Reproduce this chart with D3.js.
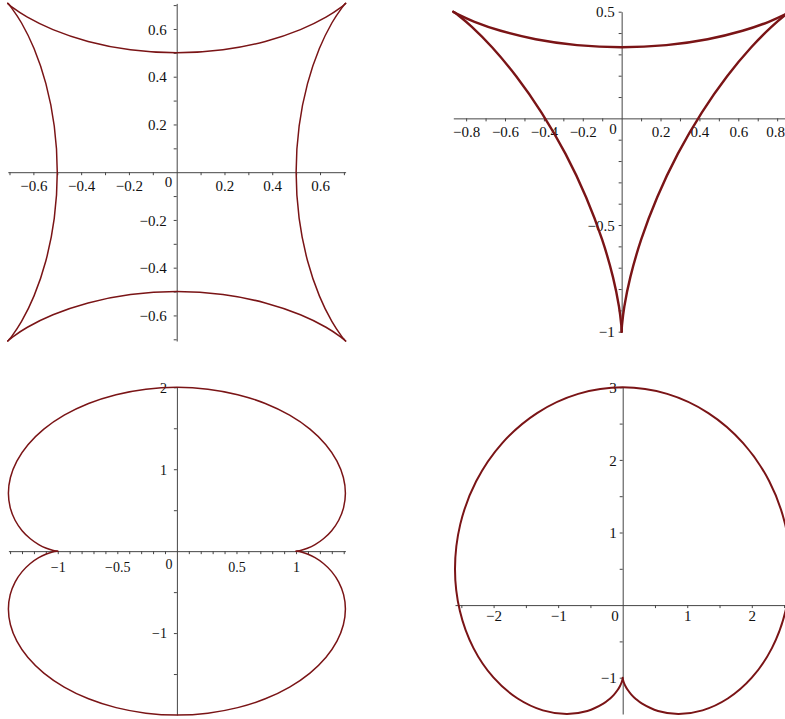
<!DOCTYPE html>
<html><head><meta charset="utf-8">
<script src="https://cdn.jsdelivr.net/npm/d3@7"></script>
<style>html,body{margin:0;padding:0;background:#fff;} svg{display:block;}</style>
</head><body><svg id="chart" width="785" height="719"></svg>
<script>
// ---- Panel 1: four-cusped curve ----
const astroidTop = [[0.70711,0.70711],[0.70238,0.70277],[0.68754,0.69068],[0.625,0.64952],[0.51798,0.59724],[0.37089,0.54766],[0.19356,0.51261],[0,0.5],[-0.19356,0.51261],[-0.37089,0.54766],[-0.51798,0.59724],[-0.625,0.64952],[-0.68754,0.69068],[-0.70238,0.70277],[-0.70711,0.70711]];
const astroidBottom = [[0.70711,-0.70711],[0.70238,-0.70277],[0.68754,-0.69068],[0.625,-0.64952],[0.51798,-0.59724],[0.37089,-0.54766],[0.19356,-0.51261],[0,-0.5],[-0.19356,-0.51261],[-0.37089,-0.54766],[-0.51798,-0.59724],[-0.625,-0.64952],[-0.68754,-0.69068],[-0.70238,-0.70277],[-0.70711,-0.70711]];
const astroidRight = [[0.70711,0.70711],[0.70277,0.70238],[0.69068,0.68754],[0.64952,0.625],[0.59724,0.51798],[0.54766,0.37089],[0.51261,0.19356],[0.5,0],[0.51261,-0.19356],[0.54766,-0.37089],[0.59724,-0.51798],[0.64952,-0.625],[0.69068,-0.68754],[0.70277,-0.70238],[0.70711,-0.70711]];
const astroidLeft = [[-0.70711,0.70711],[-0.70277,0.70238],[-0.69068,0.68754],[-0.64952,0.625],[-0.59724,0.51798],[-0.54766,0.37089],[-0.51261,0.19356],[-0.5,0],[-0.51261,-0.19356],[-0.54766,-0.37089],[-0.59724,-0.51798],[-0.64952,-0.625],[-0.69068,-0.68754],[-0.70277,-0.70238],[-0.70711,-0.70711]];
const p1XLabels = [-0.6,-0.4,-0.2,0.2,0.4,0.6];
const p1XMinor = [-0.7,-0.5,-0.3,-0.1,0.1,0.3,0.5,0.7];
const p1YLabels = [-0.6,-0.4,-0.2,0.2,0.4,0.6];
const p1YMinor = [-0.7,-0.5,-0.3,-0.1,0.1,0.3,0.5,0.7];

// ---- Panel 2: three-cusped curve ----
const deltoidTop = [[0.86603,0.5],[0.85933,0.49639],[0.83896,0.48641],[0.7568,0.45281],[0.62201,0.41069],[0.44228,0.37111],[0.22977,0.34331],[0,0.33333],[-0.22977,0.34331],[-0.44228,0.37111],[-0.62201,0.41069],[-0.7568,0.45281],[-0.83896,0.48641],[-0.85933,0.49639],[-0.86603,0.5]];
const deltoidRight = [[0,-1],[0.00022,-0.9924],[0.00177,-0.96978],[0.01375,-0.88182],[0.04466,-0.74403],[0.10025,-0.56859],[0.18242,-0.37065],[0.28868,-0.16667],[0.4122,0.02733],[0.54253,0.19747],[0.66668,0.33333],[0.77055,0.429],[0.84073,0.48336],[0.85956,0.496],[0.86603,0.5]];
const deltoidLeft = [[0,-1],[-0.00022,-0.9924],[-0.00177,-0.96978],[-0.01375,-0.88182],[-0.04466,-0.74403],[-0.10025,-0.56859],[-0.18242,-0.37065],[-0.28868,-0.16667],[-0.4122,0.02733],[-0.54253,0.19747],[-0.66668,0.33333],[-0.77055,0.429],[-0.84073,0.48336],[-0.85956,0.496],[-0.86603,0.5]];
const p2XLabels = [-0.8,-0.6,-0.4,-0.2,0.2,0.4,0.6,0.8];
const p2XMinor = [-0.7,-0.5,-0.3,-0.1,0.1,0.3,0.5,0.7];
const p2YLabels = [0.5,-0.5,-1];
const p2YMinor = [0.4,0.3,0.2,0.1,-0.1,-0.2,-0.3,-0.4,-0.6,-0.7,-0.8,-0.9];

// ---- Panel 3: two-cusped curve ----
const nephroidUpper = [[1,0],[1.01132,0.00133],[1.0442,0.01047],[1.09534,0.03468],[1.15954,0.08002],[1.23005,0.15096],[1.29904,0.25],[1.35814,0.3774],[1.39906,0.53117],[1.41421,0.70711],[1.3972,0.89906],[1.34333,1.09932],[1.25,1.29904],[1.11689,1.48887],[0.94605,1.65954],[0.74179,1.80245],[0.51047,1.91022],[0.26015,1.97726],[0,2],[-0.26015,1.97726],[-0.51047,1.91022],[-0.74179,1.80245],[-0.94605,1.65954],[-1.11689,1.48887],[-1.25,1.29904],[-1.34333,1.09932],[-1.3972,0.89906],[-1.41421,0.70711],[-1.39906,0.53117],[-1.35814,0.3774],[-1.29904,0.25],[-1.23005,0.15096],[-1.15954,0.08002],[-1.09534,0.03468],[-1.0442,0.01047],[-1.01132,0.00133],[-1,0]];
const nephroidLower = [[1,0],[1.01132,-0.00133],[1.0442,-0.01047],[1.09534,-0.03468],[1.15954,-0.08002],[1.23005,-0.15096],[1.29904,-0.25],[1.35814,-0.3774],[1.39906,-0.53117],[1.41421,-0.70711],[1.3972,-0.89906],[1.34333,-1.09932],[1.25,-1.29904],[1.11689,-1.48887],[0.94605,-1.65954],[0.74179,-1.80245],[0.51047,-1.91022],[0.26015,-1.97726],[0,-2],[-0.26015,-1.97726],[-0.51047,-1.91022],[-0.74179,-1.80245],[-0.94605,-1.65954],[-1.11689,-1.48887],[-1.25,-1.29904],[-1.34333,-1.09932],[-1.3972,-0.89906],[-1.41421,-0.70711],[-1.39906,-0.53117],[-1.35814,-0.3774],[-1.29904,-0.25],[-1.23005,-0.15096],[-1.15954,-0.08002],[-1.09534,-0.03468],[-1.0442,-0.01047],[-1.01132,-0.00133],[-1,0]];
const p3XLabels = [-1,-0.5,0.5,1];
const p3XMinor = [-1.4,-1.3,-1.2,-1.1,-0.9,-0.8,-0.7,-0.6,-0.4,-0.3,-0.2,-0.1,0.1,0.2,0.3,0.4,0.6,0.7,0.8,0.9,1.1,1.2,1.3,1.4];
const p3YLabels = [2,1,-1];
const p3YMinor = [1.5,0.5,-0.5,-1.5];

// ---- Panel 4: one-cusped curve ----
const cardioid = [[0,-1],[0.00066,-1.00758],[0.00528,-1.02993],[0.01764,-1.06582],[0.04125,-1.11335],[0.0792,-1.16983],[0.13397,-1.23205],[0.20747,-1.29628],[0.30077,-1.35844],[0.54728,-1.45923],[0.86603,-1.5],[1.2366,-1.45008],[1.6276,-1.28699],[2,-1],[2.31164,-0.59239],[2.52218,-0.082],[2.59808,0.5],[2.5169,1.11193],[2.27039,1.70574],[1.86603,2.23205],[1.32683,2.64543],[0.68932,2.90931],[0,3],[-0.68932,2.90931],[-1.32683,2.64543],[-1.86603,2.23205],[-2.27039,1.70574],[-2.5169,1.11193],[-2.59808,0.5],[-2.52218,-0.082],[-2.31164,-0.59239],[-2,-1],[-1.6276,-1.28699],[-1.2366,-1.45008],[-0.86603,-1.5],[-0.54728,-1.45923],[-0.30077,-1.35844],[-0.20747,-1.29628],[-0.13397,-1.23205],[-0.0792,-1.16983],[-0.04125,-1.11335],[-0.01764,-1.06582],[-0.00528,-1.02993],[-0.00066,-1.00758],[0,-1]];
const p4XLabels = [-2,-1,1,2];
const p4XMinor = [-2.5,-1.5,-0.5,0.5,1.5,2.5];
const p4YLabels = [3,2,1,-1];
const p4YMinor = [2.5,1.5,0.5,-0.5];

const panels = [
  {xDomain:[-0.70711,0.70711], yDomain:[-0.70711,0.70711], px:[7.8,345.6], py:[341,3.4],
   arcs:[astroidTop,astroidLeft,astroidBottom,astroidRight], xL:p1XLabels, xM:p1XMinor, yL:p1YLabels, yM:p1YMinor,
   sw:1.5, fs:15, xDy:19, yDx:-10, zDx:-4.5, zDy:15},
  {xDomain:[-0.86603,0.86603], yDomain:[-1,0.5], px:[453.3,790], py:[331.7,11.7],
   arcs:[deltoidTop,deltoidRight,deltoidLeft], xL:p2XLabels, xM:p2XMinor, yL:p2YLabels, yM:p2YMinor,
   sw:2.4, fs:15, xDy:18.5, yDx:-7, zDx:-5, zDy:16},
  {xDomain:[-1.41421,1.41421], yDomain:[-2,2], px:[8.4,345.4], py:[715,387.3],
   arcs:[nephroidUpper,nephroidLower], xL:p3XLabels, xM:p3XMinor, yL:p3YLabels, yM:p3YMinor,
   sw:1.5, fs:14, xDy:21, yDx:-10, zDx:-4.5, zDy:17.5},
  {xDomain:[-2.59808,2.59808], yDomain:[-1.5,3], px:[455,790.4], py:[714,387.3],
   arcs:[cardioid], xL:p4XLabels, xM:p4XMinor, yL:p4YLabels, yM:p4YMinor,
   sw:2, fs:15, xDy:15.5, yDx:-6, zDx:-4, zDy:15.5}
];

const svg = d3.select("#chart");
const W = 785;
const axisColor = "#454545";
const curveColor = "#7a1416";
const fontFam = "'Liberation Serif', 'Times New Roman', serif";
const fmt = v => String(v).replace("-", "\u2212");
const isLabel = (arr, v) => arr.some(a => Math.abs(a - v) < 1e-9);

panels.forEach(p => {
  const x = d3.scaleLinear().domain(p.xDomain).range(p.px);
  const y = d3.scaleLinear().domain(p.yDomain).range(p.py);
  const g = svg.append("g");

  const xa = g.append("g").attr("transform", `translate(0,${y(0)})`)
    .call(d3.axisBottom(x).tickValues(p.xL.concat(p.xM)).tickSizeInner(3).tickSizeOuter(0)
      .tickFormat(d => isLabel(p.xL, d) ? fmt(d) : ""));
  const ya = g.append("g").attr("transform", `translate(${x(0)},0)`)
    .call(d3.axisLeft(y).tickValues(p.yL.concat(p.yM)).tickSizeInner(3).tickSizeOuter(0)
      .tickFormat(d => isLabel(p.yL, d) ? fmt(d) : ""));

  [xa, ya].forEach(a => {
    a.select(".domain").attr("stroke", axisColor).attr("stroke-width", 1);
    a.selectAll(".tick line").attr("stroke", axisColor).attr("stroke-width", 1);
    a.selectAll("text").attr("font-family", fontFam).attr("font-size", p.fs).attr("fill", "#111");
  });
  xa.selectAll("text").attr("y", p.xDy).attr("dy", 0);
  ya.selectAll("text").attr("x", p.yDx).attr("dy", "0.35em");

  // keep labels inside the picture edge
  xa.selectAll(".tick").each(function(d) {
    const t = d3.select(this).select("text");
    if (!t.text()) return;
    const bb = t.node().getBBox();
    const cx = x(d);
    const over = cx + bb.x + bb.width - (W - 0.5);
    if (over > 0) t.attr("x", -over);
  });

  g.append("text").attr("x", x(0) + p.zDx).attr("y", y(0) + p.zDy)
    .attr("text-anchor", "end").attr("font-family", fontFam)
    .attr("font-size", p.fs).attr("fill", "#111").text("0");

  const line = d3.line().x(d => x(d[0])).y(d => y(d[1])).curve(d3.curveCatmullRom.alpha(0.5));
  p.arcs.forEach(arc => {
    g.append("path").attr("d", line(arc)).attr("fill", "none")
      .attr("stroke", curveColor).attr("stroke-width", p.sw)
      .attr("stroke-linejoin", "round").attr("stroke-linecap", "round");
  });
});
</script></body></html>
